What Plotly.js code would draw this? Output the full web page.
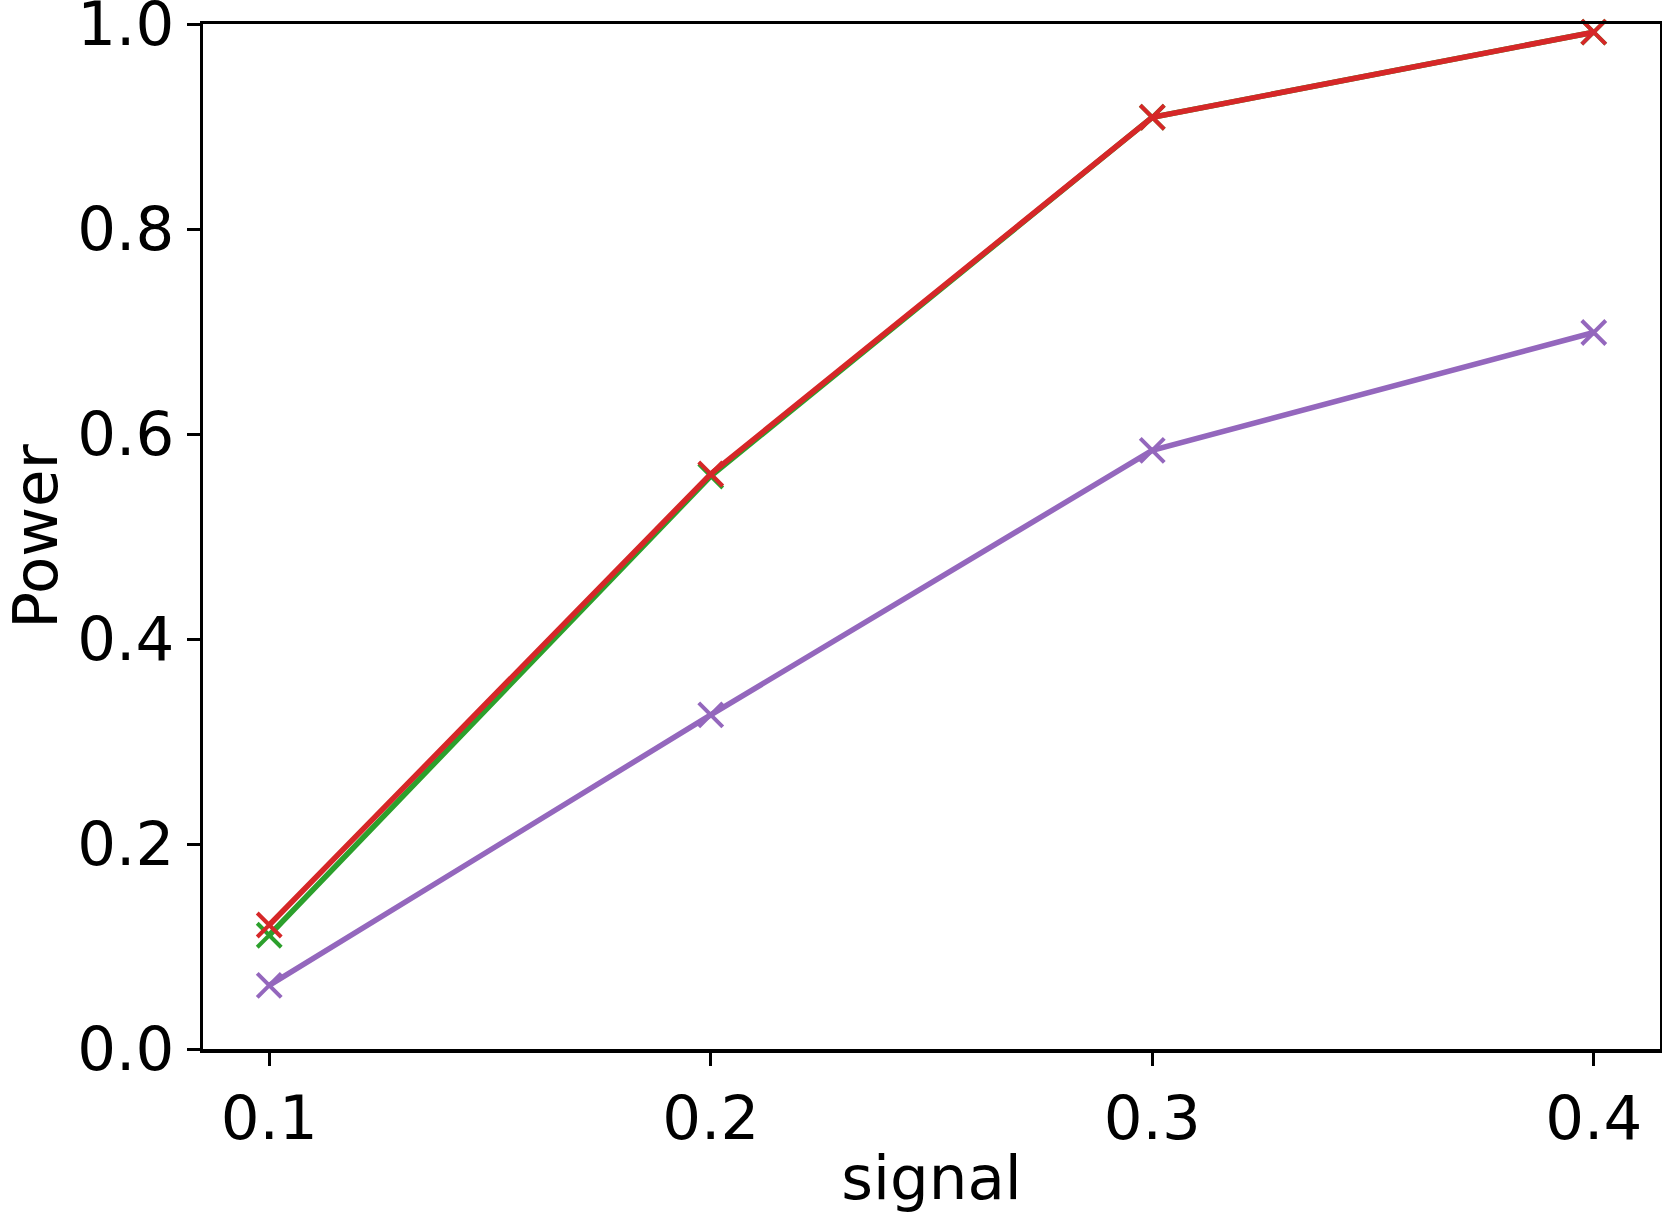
<!DOCTYPE html>
<html>
<head>
<meta charset="utf-8">
<script src="https://cdn.plot.ly/plotly-3.0.1.min.js"></script>
<style>
  html, body { margin: 0; padding: 0; background: #ffffff; }
  #chart { width: 1662px; height: 1213px; }
</style>
</head>
<body>
<div id="chart"></div>
<script>
// signal levels on the x axis
const signal = [0.1, 0.2, 0.3, 0.4];

// power, one array per method
const powerGreen = [0.111, 0.559, 0.909, 0.992];
const powerRed = [0.121, 0.561, 0.909, 0.992];
const powerPurple = [0.062, 0.326, 0.584, 0.699];

const yTicks = [0, 0.2, 0.4, 0.6, 0.8, 1.0];
const xTicks = [0.1, 0.2, 0.3, 0.4];

function series(y, color) {
    return {
        x: signal,
        y: y,
        type: 'scatter',
        mode: 'lines+markers',
        line: { color: color, width: 5.5 },
        marker: { symbol: 'x-thin', size: 24, line: { color: color, width: 4 } },
        showlegend: false,
        cliponaxis: false
    };
}

const data = [
    series(powerGreen, '#2ca02c'),
    series(powerRed, '#d62728'),
    series(powerPurple, '#9467bd')
];

const axisFont = { family: 'DejaVu Sans', size: 61, color: '#000000' };

const layout = {
    width: 1662,
    height: 1213,
    margin: { l: 203, r: 2, t: 24, b: 164 },
    paper_bgcolor: '#ffffff',
    plot_bgcolor: '#ffffff',
    font: axisFont,
    xaxis: {
        range: [0.085, 0.415],
        tickvals: xTicks,
        ticktext: xTicks.map(v => v.toFixed(1)),
        ticks: 'outside',
        ticklen: 13,
        tickwidth: 3,
        tickcolor: '#000000',
        showline: true,
        linewidth: 3.5,
        linecolor: '#000000',
        mirror: true,
        showgrid: false,
        zeroline: false,
        tickfont: axisFont,
        ticklabeloverflow: 'allow',
        automargin: false,
        title: { text: 'signal', font: axisFont, standoff: 8 }
    },
    yaxis: {
        range: [0, 1],
        tickvals: yTicks,
        ticktext: yTicks.map(v => v.toFixed(1)),
        ticks: 'outside',
        ticklen: 13,
        tickwidth: 3,
        tickcolor: '#000000',
        showline: true,
        linewidth: 3.5,
        linecolor: '#000000',
        mirror: true,
        showgrid: false,
        zeroline: false,
        tickfont: axisFont,
        ticklabeloverflow: 'allow',
        automargin: false,
        title: { text: 'Power', font: axisFont, standoff: 32 }
    }
};

Plotly.newPlot('chart', data, layout, { staticPlot: true });
</script>
</body>
</html>
